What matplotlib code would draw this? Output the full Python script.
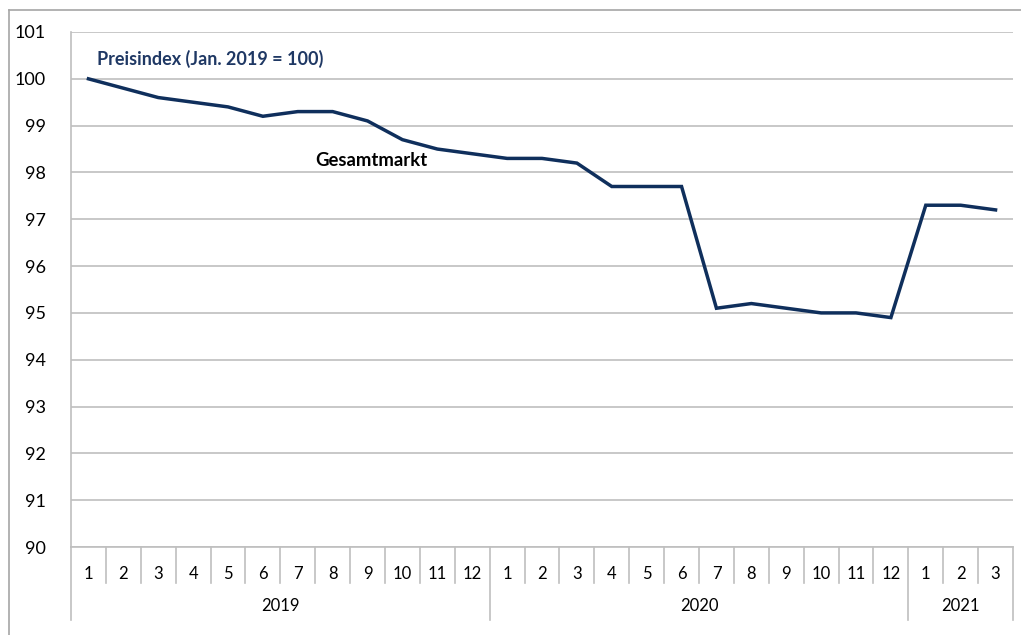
#!/usr/bin/env python3
"""Preisindex Gesamtmarkt, Jan. 2019 = 100, monthly line chart."""

import matplotlib

matplotlib.use("Agg")
import matplotlib.pyplot as plt
from matplotlib.lines import Line2D

plt.rcParams["font.family"] = ["Lato", "DejaVu Sans"]

YEARS = ["2019", "2020", "2021"]
MONTHS_PER_YEAR = [12, 12, 3]
MONTH_LABELS = [str(m) for n in MONTHS_PER_YEAR for m in range(1, n + 1)]
INDEX = [
    100.0, 99.8, 99.6, 99.5, 99.4, 99.2, 99.3, 99.3, 99.1, 98.7, 98.5, 98.4,
    98.3, 98.3, 98.2, 97.7, 97.7, 97.7, 95.1, 95.2, 95.1, 95.0, 95.0, 94.9,
    97.3, 97.3, 97.2,
]
Y_TICKS = list(range(90, 102))

LINE_COLOR = "#0f2f5c"
TITLE_COLOR = "#1f3864"
GRID_COLOR = "#bfbfbf"
FRAME_COLOR = "#a6a6a6"

W, H = 1021, 635
fig = plt.figure(figsize=(W / 100, H / 100), dpi=100)
ax = fig.add_axes([71 / W, 1 - 547 / H, (1013 - 71) / W, (547 - 32) / H])

x = list(range(len(INDEX)))
ax.plot(x, INDEX, color=LINE_COLOR, linewidth=2.5, solid_joinstyle="miter", zorder=3)

ax.set_xlim(-0.5, len(INDEX) - 0.5)
ax.set_ylim(90, 101)
ax.set_yticks(Y_TICKS)
ax.set_yticklabels([str(v) for v in Y_TICKS], fontsize=13)
ax.tick_params(axis="y", length=0, pad=18)
ax.grid(axis="y", color=GRID_COLOR, linewidth=1.2)
ax.set_axisbelow(True)

for side in ["top", "right"]:
    ax.spines[side].set_visible(False)
ax.spines["bottom"].set_color(GRID_COLOR)
ax.spines["bottom"].set_linewidth(1.2)
ax.spines["left"].set_color(GRID_COLOR)
ax.spines["left"].set_linewidth(1.2)

# two level category axis: months, then years
ax.set_xticks(x)
ax.set_xticklabels(MONTH_LABELS, fontsize=12)
ax.tick_params(axis="x", length=0, pad=14)

trans = ax.get_xaxis_transform()
month_low = -(583 - 547) / (547 - 32)
year_low = -(620 - 547) / (547 - 32)
year_label_y = -(606 - 547) / (547 - 32)

bounds = [-0.5]
for n in MONTHS_PER_YEAR:
    bounds.append(bounds[-1] + n)

for b in [i - 0.5 for i in range(len(INDEX) + 1)]:
    low = year_low if b in bounds else month_low
    ax.plot([b, b], [0, low], color=GRID_COLOR, linewidth=1.2,
            transform=trans, clip_on=False)

for year, lo, hi in zip(YEARS, bounds[:-1], bounds[1:]):
    ax.text((lo + hi) / 2, year_label_y, year, transform=trans,
            ha="center", va="center", fontsize=12)

ax.text(0.25, 100.42, "Preisindex (Jan. 2019 = 100)", color=TITLE_COLOR,
        fontsize=13, fontweight="bold", ha="left", va="center")
ax.text(8.1, 98.25, "Gesamtmarkt", color="black",
        fontsize=13.3, fontweight="bold", ha="center", va="center")

# outer chart frame (only left and top edges are visible in the crop)
fig.add_artist(Line2D([9 / W, 9 / W], [0, 1 - 10 / H], color=FRAME_COLOR,
                      linewidth=1.2, transform=fig.transFigure))
fig.add_artist(Line2D([9 / W, 1], [1 - 10 / H, 1 - 10 / H], color=FRAME_COLOR,
                      linewidth=1.2, transform=fig.transFigure))

fig.savefig("out.png", dpi=100)
